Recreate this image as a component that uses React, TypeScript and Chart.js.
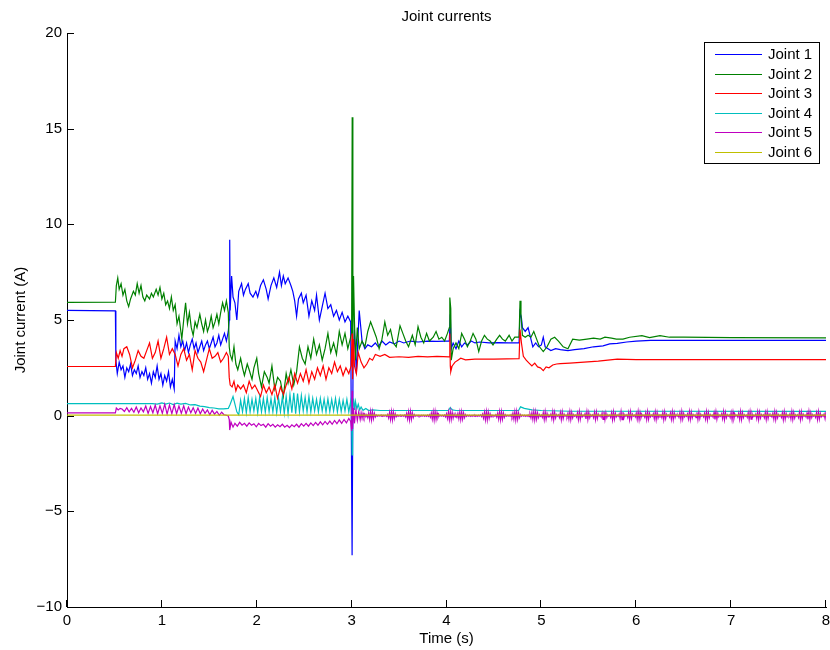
import { useEffect, useRef } from "react";
import { Chart, registerables } from "chart.js";

Chart.register(...registerables);

const seriesLabels = ["Joint 1", "Joint 2", "Joint 3", "Joint 4", "Joint 5", "Joint 6"];
const seriesColors = ["#0000ff", "#008000", "#ff0000", "#00bfbf", "#bf00bf", "#bfbf00"];
const xTickValues = [0, 1, 2, 3, 4, 5, 6, 7, 8];
const yTickValues = [-10, -5, 0, 5, 10, 15, 20];

// Joint 1 (time s, current A)
const joint1 = [
  [0, 5.5], [0.51, 5.48], [0.515, 2.9], [0.53, 2.2], [0.55, 2.8], [0.57, 2.4], [0.59, 2.6], [0.61, 2.0], [0.63, 2.5],
  [0.65, 2.3], [0.67, 2.7], [0.69, 2.1], [0.71, 2.4], [0.73, 2.2], [0.75, 2.6], [0.77, 2.0], [0.79, 2.3], [0.81, 2.1],
  [0.83, 2.5], [0.85, 1.9], [0.87, 2.2], [0.89, 1.7], [0.91, 2.3], [0.93, 2.0], [0.95, 2.6], [0.97, 1.9], [0.99, 2.2],
  [1.01, 1.6], [1.03, 2.1], [1.05, 1.8], [1.07, 2.3], [1.09, 1.5], [1.11, 1.9], [1.13, 1.4], [1.14, 3.9], [1.16, 3.5],
  [1.18, 4.2], [1.2, 3.6], [1.22, 3.9], [1.24, 3.4], [1.26, 3.8], [1.28, 3.3], [1.3, 3.7], [1.32, 4.0], [1.34, 3.5],
  [1.36, 3.8], [1.38, 3.3], [1.4, 3.6], [1.42, 3.9], [1.44, 3.4], [1.46, 3.7], [1.48, 3.9], [1.5, 3.5], [1.52, 3.8],
  [1.54, 4.1], [1.56, 3.6], [1.58, 3.8], [1.6, 4.2], [1.62, 3.7], [1.64, 4.0], [1.66, 4.3], [1.68, 3.9], [1.7, 4.4],
  [1.71, 5.0], [1.715, 9.2], [1.72, 5.5], [1.735, 7.3], [1.75, 6.2], [1.77, 5.9], [1.79, 5.0], [1.81, 6.5], [1.84, 6.9],
  [1.86, 6.3], [1.88, 6.6], [1.91, 6.9], [1.93, 6.4], [1.96, 6.2], [1.99, 6.5], [2.01, 6.2], [2.04, 6.8], [2.07, 7.1],
  [2.1, 6.6], [2.12, 6.1], [2.15, 6.8], [2.18, 7.2], [2.21, 6.7], [2.24, 7.5], [2.26, 6.8], [2.28, 7.3], [2.3, 6.9],
  [2.33, 7.2], [2.36, 6.8], [2.38, 6.5], [2.4, 6.0], [2.42, 5.2], [2.44, 6.1], [2.47, 6.4], [2.49, 5.9], [2.52, 6.3],
  [2.55, 5.2], [2.58, 6.0], [2.61, 5.5], [2.63, 6.3], [2.66, 5.0], [2.69, 5.7], [2.72, 6.4], [2.75, 5.6], [2.78, 5.8],
  [2.81, 5.2], [2.84, 5.5], [2.87, 5.0], [2.9, 5.4], [2.93, 4.9], [2.96, 5.2], [2.99, 4.9], [3.005, -7.3], [3.015, 2.8],
  [3.03, 4.5], [3.05, 2.2], [3.08, 5.5], [3.11, 3.9], [3.14, 3.5], [3.17, 3.7], [3.21, 3.6], [3.25, 3.8], [3.28, 3.6],
  [3.32, 3.9], [3.36, 3.7], [3.4, 3.85], [3.45, 3.75], [3.5, 3.9], [3.55, 3.8], [3.62, 3.9], [3.7, 3.85], [3.8, 3.9],
  [3.9, 3.88], [4.0, 3.9], [4.03, 3.9], [4.04, 5.3], [4.05, 3.5], [4.07, 3.8], [4.1, 3.5], [4.13, 3.9], [4.16, 3.6],
  [4.19, 3.8], [4.22, 3.7], [4.26, 3.9], [4.3, 3.8], [4.35, 3.85], [4.45, 3.8], [4.55, 3.82], [4.65, 3.8], [4.765, 3.8],
  [4.775, 5.4], [4.79, 5.1], [4.8, 4.6], [4.83, 4.4], [4.86, 4.6], [4.88, 4.2], [4.91, 3.6], [4.94, 3.8], [4.97, 3.6],
  [5.0, 3.7], [5.02, 4.1], [5.04, 3.6], [5.07, 3.5], [5.1, 3.4], [5.15, 3.5], [5.2, 3.45], [5.28, 3.4], [5.35, 3.45],
  [5.45, 3.5], [5.55, 3.6], [5.65, 3.65], [5.72, 3.75], [5.8, 3.78], [5.9, 3.85], [6.0, 3.9], [6.15, 3.93], [6.5, 3.93],
  [7.0, 3.94], [7.5, 3.94], [8.0, 3.94],
];

// Joint 2
const joint2 = [
  [0, 5.92], [0.51, 5.93], [0.52, 6.8], [0.535, 7.2], [0.55, 6.6], [0.57, 6.9], [0.59, 6.3], [0.61, 6.6], [0.63, 6.0],
  [0.65, 5.7], [0.67, 6.1], [0.7, 6.5], [0.72, 6.3], [0.74, 6.9], [0.76, 6.4], [0.78, 6.8], [0.8, 6.2], [0.82, 6.0],
  [0.84, 6.3], [0.87, 6.1], [0.89, 6.4], [0.91, 6.2], [0.94, 6.6], [0.96, 6.3], [0.98, 6.7], [1.0, 6.1], [1.02, 6.4],
  [1.04, 5.8], [1.06, 6.0], [1.08, 5.6], [1.1, 6.2], [1.12, 5.5], [1.14, 5.8], [1.16, 4.8], [1.18, 5.2], [1.21, 4.0],
  [1.23, 5.0], [1.25, 5.9], [1.27, 4.8], [1.29, 5.4], [1.31, 4.6], [1.33, 4.2], [1.35, 4.9], [1.37, 4.6], [1.4, 5.3],
  [1.42, 4.8], [1.44, 4.4], [1.46, 5.0], [1.48, 4.4], [1.5, 4.7], [1.52, 5.2], [1.54, 4.6], [1.56, 4.9], [1.58, 5.3],
  [1.6, 4.8], [1.62, 5.4], [1.64, 5.9], [1.66, 5.5], [1.68, 6.0], [1.7, 5.4], [1.71, 3.6], [1.72, 3.2], [1.74, 2.9],
  [1.76, 3.6], [1.78, 2.7], [1.8, 2.4], [1.83, 3.0], [1.85, 2.5], [1.87, 2.1], [1.9, 2.7], [1.92, 2.4], [1.95, 1.9],
  [1.97, 2.5], [2.0, 3.0], [2.02, 2.2], [2.05, 1.5], [2.08, 2.3], [2.11, 2.0], [2.13, 1.7], [2.16, 2.6], [2.19, 1.4],
  [2.22, 2.0], [2.25, 1.8], [2.28, 1.0], [2.31, 2.2], [2.33, 1.7], [2.36, 2.4], [2.39, 1.6], [2.42, 2.3], [2.45, 3.6],
  [2.48, 3.0], [2.51, 2.7], [2.54, 3.6], [2.57, 3.0], [2.6, 4.0], [2.63, 3.2], [2.66, 3.7], [2.69, 2.9], [2.72, 3.5],
  [2.75, 4.3], [2.78, 3.3], [2.81, 3.8], [2.84, 3.2], [2.87, 4.4], [2.9, 3.7], [2.93, 4.3], [2.96, 3.5], [2.99, 4.1],
  [3.0, 4.3], [3.006, 15.6], [3.013, 4.0], [3.02, 7.3], [3.03, 4.9], [3.04, 2.9], [3.06, 4.6], [3.08, 3.5], [3.11, 3.9],
  [3.14, 3.6], [3.17, 4.4], [3.2, 4.9], [3.23, 4.5], [3.26, 4.1], [3.29, 3.5], [3.32, 4.0], [3.35, 4.9], [3.38, 4.2],
  [3.41, 4.5], [3.44, 3.8], [3.47, 3.6], [3.51, 4.7], [3.54, 4.3], [3.57, 3.9], [3.6, 3.6], [3.64, 4.2], [3.67, 3.7],
  [3.7, 4.65], [3.73, 4.1], [3.76, 3.8], [3.79, 4.3], [3.82, 3.9], [3.86, 4.1], [3.89, 4.4], [3.92, 4.0], [3.95, 4.1],
  [3.98, 3.9], [4.01, 4.3], [4.03, 4.6], [4.035, 6.17], [4.045, 5.6], [4.05, 2.9], [4.07, 3.5], [4.1, 3.8], [4.13, 3.5],
  [4.16, 4.3], [4.19, 4.0], [4.22, 3.6], [4.25, 3.9], [4.28, 4.3], [4.31, 4.0], [4.34, 3.35], [4.37, 3.9], [4.4, 4.2],
  [4.43, 4.0], [4.46, 3.9], [4.49, 3.7], [4.53, 4.0], [4.56, 4.2], [4.59, 4.0], [4.62, 3.9], [4.66, 4.2], [4.69, 3.9],
  [4.72, 4.1], [4.765, 4.1], [4.775, 6.0], [4.785, 5.3], [4.8, 4.2], [4.83, 4.1], [4.86, 4.2], [4.89, 4.1], [4.92, 4.4],
  [4.95, 4.0], [4.98, 3.6], [5.02, 3.35], [5.06, 3.6], [5.1, 4.0], [5.14, 4.1], [5.18, 3.9], [5.23, 3.6], [5.28, 3.5],
  [5.33, 4.0], [5.4, 3.95], [5.48, 4.0], [5.55, 4.05], [5.62, 4.0], [5.67, 4.1], [5.74, 4.05], [5.79, 4.0], [5.86, 4.0],
  [5.93, 4.1], [6.06, 4.18], [6.14, 4.08], [6.25, 4.18], [6.35, 4.1], [6.5, 4.1], [7.0, 4.08], [8.0, 4.07],
];

// Joint 3
const joint3 = [
  [0, 2.57], [0.51, 2.58], [0.52, 3.3], [0.54, 3.0], [0.56, 3.4], [0.58, 3.1], [0.6, 3.5], [0.63, 3.6], [0.66, 3.2],
  [0.69, 2.5], [0.72, 2.9], [0.75, 3.4], [0.78, 3.1], [0.81, 3.0], [0.84, 3.4], [0.87, 3.8], [0.9, 3.0], [0.93, 3.3],
  [0.96, 3.9], [0.99, 3.0], [1.02, 3.5], [1.05, 4.1], [1.08, 3.2], [1.11, 3.5], [1.14, 3.2], [1.17, 2.6], [1.2, 3.2],
  [1.23, 3.5], [1.26, 2.9], [1.29, 3.2], [1.32, 2.4], [1.35, 3.4], [1.38, 3.0], [1.41, 2.8], [1.44, 2.3], [1.47, 2.9],
  [1.5, 3.5], [1.53, 3.0], [1.56, 3.1], [1.59, 3.3], [1.62, 2.8], [1.65, 3.0], [1.68, 3.3], [1.7, 3.1], [1.71, 2.0],
  [1.72, 1.6], [1.74, 1.5], [1.76, 1.8], [1.78, 1.3], [1.8, 1.6], [1.83, 1.4], [1.86, 1.6], [1.89, 1.2], [1.92, 1.8],
  [1.95, 1.4], [1.98, 1.6], [2.01, 1.3], [2.04, 1.0], [2.07, 1.6], [2.1, 1.2], [2.13, 1.5], [2.16, 1.1], [2.19, 1.6],
  [2.22, 0.9], [2.25, 1.5], [2.28, 1.1], [2.31, 1.6], [2.34, 2.0], [2.37, 1.4], [2.4, 2.2], [2.43, 1.7], [2.46, 2.2],
  [2.49, 1.8], [2.52, 2.4], [2.55, 1.7], [2.58, 2.3], [2.61, 1.9], [2.64, 2.5], [2.67, 2.1], [2.7, 2.6], [2.73, 1.9],
  [2.76, 2.5], [2.79, 2.2], [2.82, 2.8], [2.85, 2.3], [2.88, 2.6], [2.91, 2.1], [2.94, 2.5], [2.97, 2.2], [2.995, 2.6],
  [3.005, 4.3], [3.01, 1.9], [3.02, 4.0], [3.03, 2.6], [3.05, 2.2], [3.07, 3.3], [3.1, 2.8], [3.13, 2.5], [3.16, 2.7],
  [3.19, 3.0], [3.22, 2.9], [3.25, 3.2], [3.3, 3.1], [3.35, 3.2], [3.4, 3.05], [3.5, 3.08], [3.6, 3.05], [3.7, 3.1],
  [3.8, 3.07], [3.9, 3.1], [4.03, 3.07], [4.035, 4.3], [4.04, 2.6], [4.045, 2.3], [4.06, 2.6], [4.09, 2.8], [4.12, 2.9],
  [4.15, 3.0], [4.2, 2.92], [4.3, 2.95], [4.5, 2.95], [4.765, 2.98], [4.775, 4.5], [4.79, 3.8], [4.81, 3.1], [4.84, 2.9],
  [4.87, 2.75], [4.9, 2.6], [4.93, 2.75], [4.96, 2.55], [4.99, 2.5], [5.02, 2.35], [5.05, 2.55], [5.08, 2.5], [5.12, 2.65],
  [5.16, 2.7], [5.2, 2.72], [5.3, 2.75], [5.45, 2.8], [5.6, 2.85], [5.8, 2.95], [6.0, 2.93], [8.0, 2.93],
];

// Joint 4
const joint4Start = [
  [0, 0.63], [0.9, 0.63], [0.95, 0.6], [1.0, 0.67], [1.04, 0.6], [1.08, 0.66], [1.12, 0.58], [1.16, 0.65], [1.2, 0.6],
  [1.25, 0.64], [1.3, 0.56], [1.35, 0.58], [1.4, 0.5], [1.45, 0.47], [1.5, 0.42], [1.55, 0.4], [1.6, 0.36], [1.65, 0.35],
  [1.7, 0.38], [1.72, 0.6], [1.75, 1.0], [1.77, 0.6], [1.79, 0.2], [1.81, 0.05],
];
const joint4OscStart = 1.83;
const joint4OscStep = 0.02;
const joint4Osc = [
  0.8, 0.2, 0.9, 0.15, 0.95, 0.2, 0.85, 0.25, 0.9, 0.15,
  0.95, 0.2, 0.9, 0.18, 0.95, 0.22, 0.88, 0.2, 0.95, 0.15,
  0.9, 0.2, 0.98, 0.12, 1.0, 0.1, 1.1, 0.15, 1.2, 0.1,
  1.15, 0.2, 1.05, 0.25, 0.95, 0.2, 1.0, 0.2, 0.9, 0.25,
  0.85, 0.2, 0.9, 0.25, 0.85, 0.2, 0.88, 0.22, 0.85, 0.25,
  0.9, 0.2, 0.85, 0.22, 0.8, 0.25, 0.85, 0.2, 0.75,
];
const joint4End = [
  [3.0, 0.2], [3.005, -2.05], [3.01, 0.4], [3.02, 0.9], [3.03, 0.3], [3.04, 0.75], [3.055, 0.35], [3.07, 0.6],
  [3.085, 0.3], [3.1, 0.45], [3.12, 0.28], [3.15, 0.38], [3.18, 0.27], [3.22, 0.3], [3.3, 0.27], [3.6, 0.27],
  [4.02, 0.27], [4.04, 0.42], [4.06, 0.3], [4.1, 0.27], [4.76, 0.27], [4.78, 0.46], [4.82, 0.38], [4.9, 0.3],
  [5.0, 0.27], [5.3, 0.23], [8.0, 0.22],
];

// Joint 5
const joint5Start = [[0, 0.15], [0.51, 0.15], [0.52, 0.4], [0.54, 0.3], [0.56, 0.38]];
const joint5OscAStart = 0.58;
const joint5OscAStep = 0.025;
const joint5OscA = [
  0.35, 0.22, 0.42, 0.2, 0.38, 0.18, 0.45, 0.15, 0.4, 0.2,
  0.5, 0.12, 0.48, 0.15, 0.55, 0.1, 0.52, 0.12, 0.6, 0.08,
  0.55, 0.1, 0.58, 0.1, 0.5, 0.12, 0.52, 0.1, 0.45, 0.15,
  0.42, 0.12, 0.4, 0.1, 0.35, 0.12, 0.3, 0.05, 0.28, 0.08,
  0.22, 0.02, 0.18, 0.05,
];
const joint5Drop = [[1.68, 0.02], [1.7, -0.02], [1.71, -0.2], [1.715, -0.75], [1.73, -0.35], [1.75, -0.6]];
const joint5OscBStart = 1.77;
const joint5OscBStep = 0.025;
const joint5OscB = [
  -0.4, -0.55, -0.35, -0.5, -0.4, -0.55, -0.38, -0.5, -0.42, -0.58,
  -0.4, -0.52, -0.45, -0.6, -0.42, -0.55, -0.45, -0.6, -0.48, -0.58,
  -0.45, -0.6, -0.5, -0.62, -0.48, -0.58, -0.45, -0.6, -0.42, -0.55,
  -0.4, -0.55, -0.38, -0.52, -0.35, -0.5, -0.32, -0.48, -0.3, -0.45,
  -0.28, -0.45, -0.25, -0.42, -0.22, -0.4, -0.2, -0.38, -0.15,
];
const joint5Kick = [
  [2.99, -0.3], [3.0, -0.8], [3.005, 1.3], [3.01, -0.7], [3.02, 0.4], [3.03, -0.4], [3.045, 0.3], [3.06, -0.25],
  [3.075, 0.2], [3.09, -0.2],
];
const joint5OscCStart = 3.1;
const joint5OscCStep = 0.01;
const joint5OscC = [
  0.15, -0.14, 0.12, -0.1, 0.08, -0.06,
  0.05, -0.1, 0.15, -0.19, 0.22, -0.22, 0.2, -0.16, 0.12, -0.07, 0.04,
  -0.03, 0.03, -0.02, 0.03, -0.03, 0.02, -0.03, 0.03, -0.02, 0.03, -0.04,
  0.06, -0.12, 0.17, -0.2, 0.22, -0.22, 0.19, -0.15, 0.1, -0.06, 0.03,
  -0.03, 0.02, -0.03, 0.03, -0.02, 0.03, -0.03, 0.04,
  -0.07, 0.12, -0.17, 0.2, -0.22, 0.22, -0.19, 0.15, -0.1, 0.06, -0.03,
  0.03, -0.02, 0.03, -0.03, 0.02, -0.03, 0.03, -0.02, 0.03, -0.03, 0.02, -0.03, 0.03, -0.04, 0.05,
  -0.08, 0.13, -0.18, 0.21, -0.22, 0.22, -0.19, 0.15, -0.1, 0.06, -0.03,
  0.03, -0.02, 0.03, -0.03, 0.04, -0.06,
  0.1, -0.15, 0.19, -0.21, 0.22, -0.2, 0.17, -0.13, 0.09, -0.06, 0.05,
  -0.08, 0.12, -0.16, 0.19, -0.21, 0.2, -0.18, 0.14, -0.1, 0.06, -0.04, 0.03,
  -0.02, 0.03, -0.03, 0.02, -0.03, 0.03, -0.02, 0.03, -0.03, 0.02, -0.03, 0.03, -0.02, 0.04, -0.05,
  0.08, -0.13, 0.18, -0.21, 0.22, -0.22, 0.19, -0.14, 0.1, -0.06, 0.03,
  -0.03, 0.02, -0.03, 0.05,
  -0.08, 0.13, -0.18, 0.21, -0.22, 0.21, -0.18, 0.14, -0.09, 0.05, -0.03,
  0.03, -0.02, 0.03, -0.03, 0.05,
  -0.08, 0.13, -0.18, 0.21, -0.22, 0.22, -0.19, 0.14, -0.1, 0.06, -0.03,
  0.03, -0.02, 0.03, -0.03, 0.02, -0.03, 0.04, -0.05, 0.08,
  -0.12, 0.16, -0.19, 0.21, -0.22, 0.21, -0.18, 0.14, -0.1, 0.06, -0.04,
];
const joint5OscDStart = 5.0;
const joint5OscDStep = 0.01;
const joint5OscD = [
  0.03, -0.09, 0.16, -0.2, 0.21, -0.18, 0.12, -0.06, 0.03, -0.03, 0.09, -0.16, 0.2, -0.22, 0.18, -0.12, 0.06, -0.03,
  0.04, -0.1, 0.17, -0.21, 0.2, -0.15, 0.08, -0.03, 0.03, -0.07, 0.13, -0.18, 0.21, -0.21, 0.17, -0.11, 0.06, -0.03,
  0.03, -0.08, 0.15, -0.2, 0.22, -0.19, 0.12, -0.06, 0.03, -0.03, 0.1, -0.17, 0.21, -0.2, 0.17, -0.11, 0.05, -0.03,
  0.04, -0.11, 0.18, -0.2, 0.19, -0.15, 0.08, -0.03, 0.03, -0.08, 0.14, -0.19, 0.22, -0.2, 0.16, -0.1, 0.05, -0.03,
  0.03, -0.09, 0.16, -0.21, 0.2, -0.18, 0.12, -0.06, 0.03, -0.03, 0.09, -0.16, 0.21, -0.21, 0.18, -0.12, 0.06, -0.03,
  0.04, -0.1, 0.17, -0.2, 0.21, -0.15, 0.08, -0.03, 0.03, -0.07, 0.13, -0.18, 0.22, -0.21, 0.17, -0.11, 0.06, -0.03,
  0.03, -0.09, 0.15, -0.2, 0.21, -0.19, 0.12, -0.06, 0.03, -0.03, 0.1, -0.16, 0.2, -0.21, 0.17, -0.12, 0.05, -0.03,
  0.04, -0.11, 0.17, -0.21, 0.2, -0.15, 0.08, -0.03, 0.03, -0.08, 0.14, -0.19, 0.21, -0.2, 0.16, -0.1, 0.06, -0.03,
  0.03, -0.09, 0.16, -0.2, 0.22, -0.18, 0.12, -0.06, 0.03, -0.03, 0.09, -0.17, 0.21, -0.2, 0.18, -0.12, 0.06, -0.03,
  0.04, -0.1, 0.18, -0.2, 0.2, -0.15, 0.08, -0.03, 0.03, -0.07, 0.13, -0.18, 0.21, -0.22, 0.17, -0.11, 0.06, -0.03,
  0.03, -0.08, 0.16, -0.2, 0.21, -0.19, 0.12, -0.06, 0.03, -0.03, 0.1, -0.16, 0.21, -0.21, 0.17, -0.11, 0.05, -0.03,
  0.04, -0.1, 0.17, -0.21, 0.19, -0.15, 0.08, -0.03, 0.03, -0.08, 0.14, -0.19, 0.22, -0.2, 0.16, -0.1, 0.05, -0.03,
  0.03, -0.09, 0.16, -0.2, 0.21, -0.18, 0.12, -0.06, 0.03, -0.03, 0.09, -0.16, 0.2, -0.21, 0.18, -0.12, 0.06, -0.03,
  0.04, -0.11, 0.17, -0.2, 0.2, -0.15, 0.08, -0.03, 0.03, -0.07, 0.13, -0.18, 0.21, -0.21, 0.17, -0.11, 0.06, -0.03,
  0.03, -0.09, 0.15, -0.21, 0.21, -0.18, 0.12, -0.06, 0.03, -0.03, 0.1, -0.17, 0.21, -0.2, 0.17, -0.12, 0.05, -0.03,
  0.04, -0.1, 0.18, -0.21, 0.2, -0.15, 0.08, -0.03, 0.03, -0.08, 0.14, -0.19, 0.22, -0.2, 0.16, -0.1, 0.06, -0.03,
  0.03, -0.09, 0.16, -0.2, 0.21, -0.18, 0.12, -0.06, 0.03, -0.03, 0.09, -0.16, 0.2, -0.21, 0.17,
];

// Joint 6
const joint6 = [[0, 0.03], [8, 0.03]];

const FONT = '"Liberation Sans", Helvetica, Arial, sans-serif';

function pairs(list: number[][]) {
  return list.map(([x, y]) => ({ x, y }));
}
function sampled(start: number, step: number, values: number[]) {
  return values.map((y, i) => ({ x: Math.round((start + i * step) * 10000) / 10000, y }));
}

const titlePlugin = {
  id: "matlabTitle",
  afterDraw(chart: any) {
    const { ctx, chartArea } = chart;
    ctx.save();
    ctx.fillStyle = "#000";
    ctx.font = `15px ${FONT}`;
    ctx.textAlign = "center";
    ctx.textBaseline = "middle";
    ctx.fillText("Joint currents", (chartArea.left + chartArea.right) / 2, chartArea.top - 16);
    ctx.restore();
  },
};

const innerTicksPlugin = {
  id: "innerTicks",
  afterDraw(chart: any) {
    const { ctx, chartArea, scales } = chart;
    ctx.save();
    ctx.strokeStyle = "#000";
    ctx.lineWidth = 1;
    ctx.beginPath();
    scales.y.ticks.forEach((t: any) => {
      const y = Math.round(scales.y.getPixelForValue(t.value)) + 0.5;
      ctx.moveTo(chartArea.left, y);
      ctx.lineTo(chartArea.left + 7, y);
    });
    scales.x.ticks.forEach((t: any) => {
      const x = Math.round(scales.x.getPixelForValue(t.value)) - 0.5;
      ctx.moveTo(x, chartArea.bottom);
      ctx.lineTo(x, chartArea.bottom - 7);
    });
    ctx.stroke();
    ctx.restore();
  },
};

const legendPlugin = {
  id: "boxLegend",
  afterDraw(chart: any) {
    const { ctx, chartArea } = chart;
    const datasets = chart.data.datasets;
    const right = Math.round(chartArea.right) - 7;
    const top = Math.round(chartArea.top) + 9;
    const width = 115;
    const rowH = 19.5;
    const height = 121;
    const left = right - width;
    ctx.save();
    ctx.fillStyle = "#fff";
    ctx.fillRect(left, top, width, height);
    ctx.strokeStyle = "#000";
    ctx.lineWidth = 1;
    ctx.strokeRect(left + 0.5, top + 0.5, width, height);
    ctx.font = `15px ${FONT}`;
    ctx.textAlign = "left";
    ctx.textBaseline = "middle";
    datasets.forEach((ds: any, i: number) => {
      const y = Math.round(top + 12 + i * rowH) + 0.5;
      ctx.strokeStyle = ds.borderColor;
      ctx.lineWidth = 1;
      ctx.beginPath();
      ctx.moveTo(left + 11, y);
      ctx.lineTo(left + 58, y);
      ctx.stroke();
      ctx.fillStyle = "#000";
      ctx.fillText(ds.label, left + 64, y);
    });
    ctx.restore();
  },
};

export default function App() {
  const canvasRef = useRef<HTMLCanvasElement | null>(null);

  useEffect(() => {
    document.body.style.margin = "0";
    const canvas = canvasRef.current;
    if (!canvas) return;

    const seriesData = [
      pairs(joint1),
      pairs(joint2),
      pairs(joint3),
      [...pairs(joint4Start), ...sampled(joint4OscStart, joint4OscStep, joint4Osc), ...pairs(joint4End)],
      [
        ...pairs(joint5Start),
        ...sampled(joint5OscAStart, joint5OscAStep, joint5OscA),
        ...pairs(joint5Drop),
        ...sampled(joint5OscBStart, joint5OscBStep, joint5OscB),
        ...pairs(joint5Kick),
        ...sampled(joint5OscCStart, joint5OscCStep, joint5OscC),
        ...sampled(joint5OscDStart, joint5OscDStep, joint5OscD),
      ],
      pairs(joint6),
    ];

    const chart = new Chart(canvas, {
      type: "line",
      data: {
        datasets: seriesData.map((data, i) => ({
          label: seriesLabels[i],
          data,
          borderColor: seriesColors[i],
          backgroundColor: seriesColors[i],
          borderWidth: 1.2,
          pointRadius: 0,
          tension: 0,
          fill: false,
          order: seriesLabels.length - i,
        })),
      },
      options: {
        responsive: false,
        animation: false,
        devicePixelRatio: 1,
        layout: { padding: { top: 33, right: 4, left: 0, bottom: 0 } },
        plugins: {
          legend: { display: false },
          tooltip: { enabled: false },
          title: { display: false },
        },
        scales: {
          x: {
            type: "linear",
            min: 0,
            max: 8,
            afterBuildTicks: (scale: any) => {
              scale.ticks = xTickValues.map((value) => ({ value }));
            },
            afterFit: (scale: any) => {
              scale.height = 43;
              scale.paddingLeft = 0;
              scale.paddingRight = 0;
            },
            grid: { display: false, drawTicks: false },
            border: { display: true, color: "#000", width: 1 },
            ticks: {
              color: "#000",
              padding: 5,
              maxRotation: 0,
              font: { family: FONT, size: 15 },
              callback: (v: any) => String(v),
            },
            title: {
              display: true,
              text: "Time (s)",
              color: "#000",
              font: { family: FONT, size: 15 },
              padding: { top: 0, bottom: 2 },
            },
          },
          y: {
            type: "linear",
            min: -10,
            max: 20,
            afterBuildTicks: (scale: any) => {
              scale.ticks = yTickValues.map((value) => ({ value }));
            },
            afterFit: (scale: any) => {
              scale.width = 67;
            },
            grid: { display: false, drawTicks: false },
            border: { display: true, color: "#000", width: 1 },
            ticks: {
              color: "#000",
              padding: 5,
              font: { family: FONT, size: 15 },
              callback: (v: any) => String(v).replace("-", "\u2212"),
            },
            title: {
              display: true,
              text: "Joint current (A)",
              color: "#000",
              font: { family: FONT, size: 15 },
              padding: { top: 12, bottom: 0 },
            },
          },
        },
      },
      plugins: [titlePlugin, innerTicksPlugin, legendPlugin],
    } as any);

    return () => chart.destroy();
  }, []);

  return (
    <canvas
      ref={canvasRef}
      width={830}
      height={650}
      style={{ display: "block", width: 830, height: 650 }}
    />
  );
}
